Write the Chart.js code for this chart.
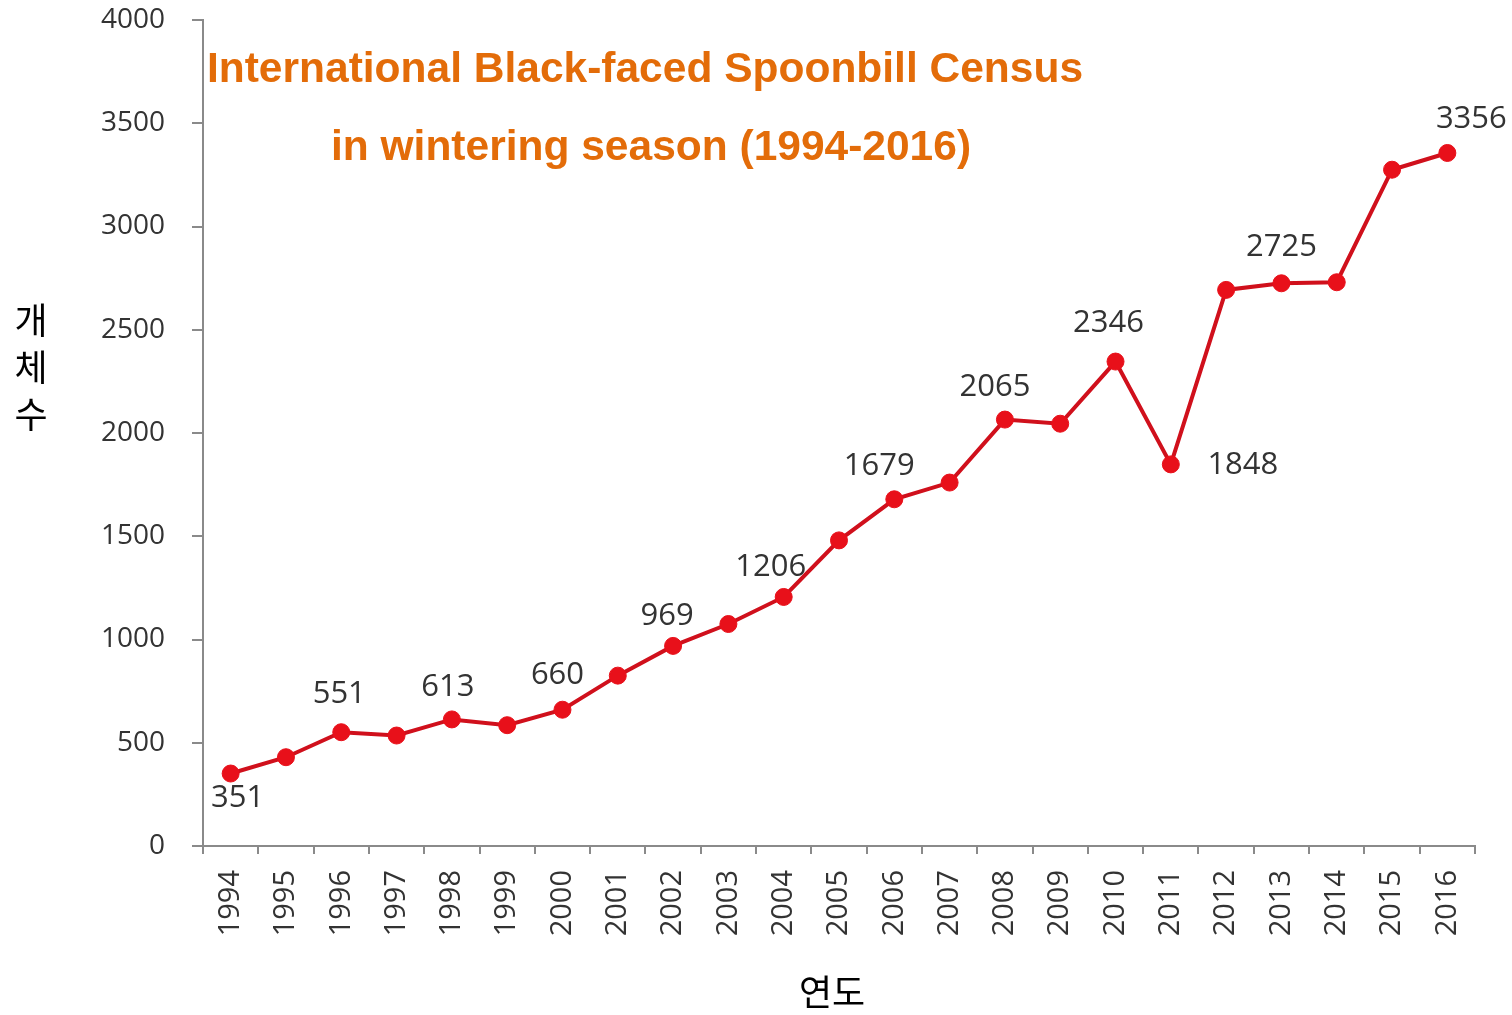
<!DOCTYPE html>
<html>
<head>
<meta charset="utf-8">
<script src="https://cdn.jsdelivr.net/npm/chart.js@4.4.1/dist/chart.umd.min.js"></script>
<style>
html,body{margin:0;padding:0;background:#ffffff;}
#wrap{width:1512px;height:1015px;position:relative;}
</style>
</head>
<body>
<div id="wrap"><canvas id="c" width="1512" height="1015"></canvas></div>
<script>
// ---- data ----
const years = ['1994','1995','1996','1997','1998','1999','2000','2001','2002','2003','2004','2005',
               '2006','2007','2008','2009','2010','2011','2012','2013','2014','2015','2016'];
const counts = [351, 430, 551, 535, 613, 585, 660, 825, 969, 1075, 1206, 1480,
                1679, 1760, 2065, 2045, 2346, 1848, 2693, 2725, 2730, 3275, 3356];
const yTickValues = [0, 500, 1000, 1500, 2000, 2500, 3000, 3500, 4000];
const labelledYears = ['1994','1996','1998','2000','2002','2004','2006','2008','2010','2011','2013','2016'];
const titleLines = ['International Black-faced Spoonbill Census', 'in wintering season (1994-2016)'];
const yAxisTitleChars = ['개', '체', '수'];
const xAxisTitle = '연도';

// ---- styling / placement (not data) ----
const AXIS = '#8a8a8a';
const TEXT = '#333333';
const labelPlacement = {
  '1994': {dx: 7,  dy: 25},
  '1996': {dx: -2, dy: -38},
  '1998': {dx: -4, dy: -32},
  '2000': {dx: -5, dy: -35},
  '2002': {dx: -6, dy: -30},
  '2004': {dx: -13, dy: -30},
  '2006': {dx: -15, dy: -33},
  '2008': {dx: -10, dy: -32},
  '2010': {dx: -7, dy: -38},
  '2011': {dx: 72, dy: 1},
  '2013': {dx: 0, dy: -36},
  '2016': {dx: 24, dy: -34}
};

const decorPlugin = {
  id: 'decor',
  afterDatasetsDraw(chart) {
    const ctx = chart.ctx;
    const meta = chart.getDatasetMeta(0);
    ctx.save();
    // data labels
    ctx.font = '31px "Open Sans"';
    ctx.fillStyle = TEXT;
    ctx.textAlign = 'center';
    ctx.textBaseline = 'middle';
    labelledYears.forEach(yr => {
      const i = years.indexOf(yr);
      const pt = meta.data[i];
      const p = labelPlacement[yr];
      ctx.fillText(String(counts[i]), pt.x + p.dx, pt.y + p.dy);
    });
    // chart title
    ctx.font = 'bold 42.5px "Liberation Sans"';
    ctx.fillStyle = '#E36C09';
    ctx.textAlign = 'center';
    ctx.textBaseline = 'alphabetic';
    ctx.fillText(titleLines[0], 645, 82);
    ctx.fillText(titleLines[1], 651, 160);
    // y axis title, stacked
    ctx.font = '36px "Noto Sans CJK KR"';
    ctx.fillStyle = '#000000';
    ctx.textBaseline = 'middle';
    yAxisTitleChars.forEach((ch, k) => ctx.fillText(ch, 31, 320 + k * 47));
    // x axis title
    ctx.fillText(xAxisTitle, 832, 992);
    ctx.restore();
  }
};

new Chart(document.getElementById('c'), {
  type: 'line',
  data: {
    labels: years,
    datasets: [{
      data: counts,
      borderColor: '#d0101c',
      borderWidth: 4,
      backgroundColor: '#e8101a',
      pointBackgroundColor: '#e8101a',
      pointBorderColor: '#e8101a',
      pointBorderWidth: 1,
      pointRadius: 8.5,
      tension: 0,
      fill: false
    }]
  },
  options: {
    responsive: false,
    animation: false,
    devicePixelRatio: 1,
    layout: {padding: {left: 0, top: 20, right: 37, bottom: 0}},
    plugins: {legend: {display: false}, tooltip: {enabled: false}, title: {display: false}},
    scales: {
      x: {
        type: 'category',
        offset: true,
        grid: {display: true, drawOnChartArea: false, drawTicks: true, tickLength: 8, color: AXIS, lineWidth: 2, offset: true},
        border: {display: true, color: AXIS, width: 2},
        ticks: {autoSkip: false, minRotation: 90, maxRotation: 90, padding: 16, color: TEXT,
                font: {family: 'Open Sans', size: 29}},
        afterFit(scale) { scale.height = 169; scale.paddingLeft = 0; scale.paddingRight = 0; }
      },
      y: {
        min: 0,
        max: 4000,
        afterBuildTicks(scale) { scale.ticks = yTickValues.map(v => ({value: v})); },
        grid: {display: true, drawOnChartArea: false, drawTicks: true, tickLength: 11, color: AXIS, lineWidth: 2},
        border: {display: true, color: AXIS, width: 2},
        ticks: {padding: 27, color: TEXT, font: {family: 'Open Sans', size: 28},
                callback: (v) => String(v)},
        afterFit(scale) { scale.width = 203; scale.paddingTop = 0; scale.paddingBottom = 0; }
      }
    }
  },
  plugins: [decorPlugin]
});
</script>
</body>
</html>
